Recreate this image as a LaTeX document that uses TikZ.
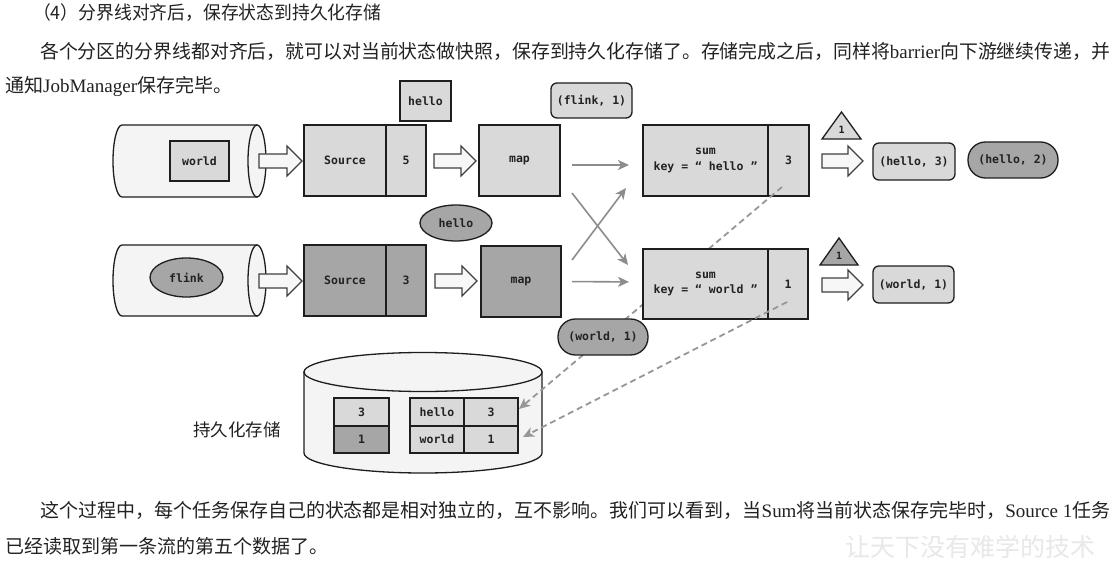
\documentclass[tikz,border=0pt]{standalone}
\usepackage{graphicx}
\usepackage{fontspec}
\setmainfont{Liberation Serif}
\newfontfamily\cjk{Noto Sans CJK SC}
\newfontfamily\dmono{DejaVu Sans Mono}
\usetikzlibrary{arrows.meta,shapes.geometric,calc}
\definecolor{lite}{HTML}{D9D9D9}
\definecolor{darkf}{HTML}{A6A6A6}
\definecolor{cylf}{HTML}{F4F4F4}
\definecolor{edge}{HTML}{1E1E1E}
\definecolor{lnk}{HTML}{8C8C8C}
\definecolor{txt}{HTML}{222222}
\newcommand\fatArrow[3]{%
  \draw[fat] (#1,#3-7) -- (#2-15,#3-7) -- (#2-15,#3-15) -- (#2,#3) -- (#2-15,#3+15) -- (#2-15,#3+7) -- (#1,#3+7) -- cycle;}
\tikzset{
  box/.style={draw=edge, line width=1.3pt, fill=lite, inner sep=0pt, outer sep=0pt,
    font=\dmono\bfseries\fontsize{11.5}{13.5}\selectfont, text=txt, align=center},
  dbox/.style={box, fill=darkf},
  rbox/.style={box, rounded corners=6pt},
  stad/.style={box, fill=darkf, rounded corners=17.5pt},
  ell/.style={box, ellipse, fill=darkf},
  fat/.style={draw=edge!85, line width=1.1pt, fill=black!3, line join=miter},
  cyl/.style={draw=edge, line width=1.3pt, fill=cylf},
  tri/.style={draw=edge, line width=1.3pt, line join=miter},
  link/.style={draw=lnk, line width=1.6pt, -{Stealth[length=11pt,width=10pt,inset=3pt]}},
  dashlink/.style={draw=lnk!90, line width=1.8pt, dash pattern=on 6pt off 4pt,
    -{Stealth[length=11pt,width=10pt,inset=3pt]}},
  para/.style={inner sep=0pt, anchor=west, text=txt, font=\cjk\fontsize{19}{21}\selectfont},
  trilabel/.style={inner sep=0pt, font=\dmono\bfseries\fontsize{10}{12}\selectfont, text=txt}
}
\begin{document}
\begin{tikzpicture}[x=1pt,y=-1pt]
\path[use as bounding box, fill=white] (0,0) rectangle (1116,564);

% ---- texts
\node[para, font=\cjk\fontsize{18.5}{20}\selectfont] (head) at (33,13) {\resizebox{348pt}{\height}{（4）分界线对齐后，保存状态到持久化存储}};
\node[para] (p1) at (40,51) {\resizebox{1070pt}{\height}{各个分区的分界线都对齐后，就可以对当前状态做快照，保存到持久化存储了。存储完成之后，同样将{\rmfamily barrier}向下游继续传递，并}};
\node[para] (p2) at (5,86) {通知{\rmfamily JobManager}保存完毕。};
\node[para] (b1) at (40,510) {\resizebox{1070pt}{\height}{这个过程中，每个任务保存自己的状态都是相对独立的，互不影响。我们可以看到，当{\rmfamily Sum}将当前状态保存完毕时，{\rmfamily Source 1}任务}};
\node[para] (b2) at (5,546) {已经读取到第一条流的第五个数据了。};
\node[inner sep=0pt, font=\cjk\fontsize{25}{25}\selectfont, text=black!9] (wm) at (970,547) {让天下没有难学的技术};

% ---- top row
\path[cyl] (257,125) -- (122,125) arc[start angle=270, end angle=90, x radius=9, y radius=36] -- (257,197) -- cycle;
\draw[cyl] (257,161) ellipse [x radius=9, y radius=36];
\node[box, minimum width=59pt, minimum height=40pt] (w1) at (199.5,161) {world};
\fatArrow{259}{302}{161}
\node[box, minimum width=82pt, minimum height=71pt] (s1a) at (345,160.5) {Source};
\node[box, minimum width=40pt, minimum height=71pt] (s1b) at (406,160.5) {5};
\node[box, minimum width=51pt, minimum height=40pt] (h1) at (425.5,101) {hello};
\fatArrow{434}{476}{161}
\node[box, minimum width=81pt, minimum height=71pt] (map1) at (519.5,160.5) {map};
\node[rbox, minimum width=81pt, minimum height=35pt] (fl1) at (591.5,100.5) {(flink, 1)};

% ---- bottom row
\path[cyl] (257,245) -- (122,245) arc[start angle=270, end angle=90, x radius=9, y radius=35.5] -- (257,316) -- cycle;
\draw[cyl] (257,280.5) ellipse [x radius=9, y radius=35.5];
\node[ell, minimum width=73pt, minimum height=39pt] (fl2) at (186.5,277.5) {flink};
\fatArrow{259}{302}{281}
\node[dbox, minimum width=82pt, minimum height=71pt] (s2a) at (345,280.5) {Source};
\node[dbox, minimum width=40pt, minimum height=71pt] (s2b) at (406,280.5) {3};
\node[ell, minimum width=72pt, minimum height=36pt] (h2) at (456,223) {hello};
\fatArrow{435}{477}{281}
\node[dbox, minimum width=80pt, minimum height=71pt] (map2) at (521,281.5) {map};

% ---- storage
\path[cyl] (304,372) -- (304,453) arc[start angle=180, end angle=0, x radius=119, y radius=20] -- (542,372) -- cycle;
\draw[cyl] (423,372) ellipse [x radius=119, y radius=19.5];
\node[box, minimum width=55pt, minimum height=28pt] (l1) at (361.5,412) {3};
\node[dbox, minimum width=55pt, minimum height=27pt] (l2) at (361.5,439.5) {1};
\node[box, minimum width=54pt, minimum height=28pt] (t1a) at (437,412) {hello};
\node[box, minimum width=54pt, minimum height=28pt] (t1b) at (491,412) {3};
\node[box, minimum width=54pt, minimum height=27pt] (t2a) at (437,439.5) {world};
\node[box, minimum width=54pt, minimum height=27pt] (t2b) at (491,439.5) {1};
\node[inner sep=0pt, font=\cjk\fontsize{17.5}{19}\selectfont, text=txt] (store) at (237,430) {持久化存储};

% ---- sum top
\node[box, minimum width=125pt, minimum height=71pt] (sum1a) at (705.5,160.5) {sum\\[2pt]key = “ hello ”};
\node[box, minimum width=41pt, minimum height=71pt] (sum1b) at (788.5,160.5) {3};

% ---- gray links
\draw[link, shorten <=12pt, shorten >=14pt] ([yshift=-4.5pt]map1.east) -- ([yshift=-4.5pt]sum1a.west);
\draw[link] ([xshift=12pt,yshift=3pt]map1.south east) -- ([xshift=-15pt,yshift=-69pt]sum1a.south west);
\draw[link] ([xshift=11pt,yshift=-14pt]map2.north east) -- ([xshift=-17pt,yshift=8pt]sum1a.south west);
\draw[link, shorten <=11pt, shorten >=14pt] (map2.east) -- ([yshift=-0.5pt]map2.east -| sum1a.west);

% ---- dashed 1 (under bottom sum box)
\draw[dashlink] ([xshift=-6.5pt,yshift=9pt]sum1b.south) -- ([xshift=1pt,yshift=3pt]t1b.east);

% ---- sum bottom
\node[box, minimum width=125pt, minimum height=70pt] (sum2a) at (705.5,284) {sum\\[2pt]key = “ world ”};
\node[box, minimum width=40pt, minimum height=70pt] (sum2b) at (788,284) {1};
\draw[dashlink] ([xshift=-1pt,yshift=-18pt]sum2b.center) -- ([xshift=5pt,yshift=2.5pt]t2b.east);

\node[stad, minimum width=90pt, minimum height=36pt] (wst) at (603,337) {(world, 1)};

% ---- outputs
\draw[tri, fill=lite] (822,139) -- (841.5,112) -- (861,139) -- cycle;
\node[trilabel] (tr1) at (841.5,130) {1};
\fatArrow{822}{863}{161}
\node[rbox, minimum width=82pt, minimum height=37pt] (o1) at (914,161.5) {(hello, 3)};
\node[stad, minimum width=90pt, minimum height=36pt] (o2) at (1013,160) {(hello, 2)};

\draw[tri, fill=darkf] (820,265) -- (839,238) -- (858,265) -- cycle;
\node[trilabel] (tr2) at (839,256) {1};
\fatArrow{822}{863}{285}
\node[rbox, minimum width=81pt, minimum height=37pt] (o3) at (913.5,284.5) {(world, 1)};
\end{tikzpicture}
\end{document}
